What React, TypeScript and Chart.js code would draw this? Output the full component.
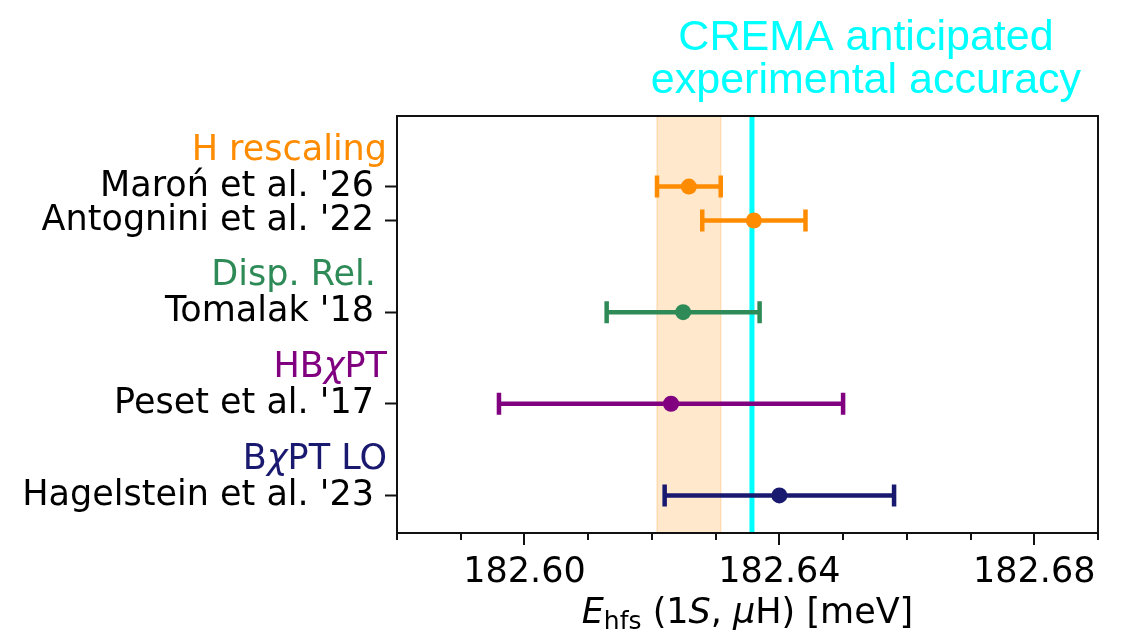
import { useEffect, useRef } from "react";
import { Chart, registerables } from "chart.js";

Chart.register(...registerables);

// Individual determinations, top to bottom
const STUDIES = [
  "Maroń et al. '26",
  "Antognini et al. '22",
  "Tomalak '18",
  "Peset et al. '17",
  "Hagelstein et al. '23",
];
const STUDY_ROWS = [3.37, 3, 2, 1, 0];
const CENTRAL = [182.6258, 182.636, 182.6249, 182.623, 182.6400];
const UNCERTAINTY = [0.005, 0.0081, 0.012, 0.027, 0.018];
const STUDY_COLORS = ["#ff8c00", "#ff8c00", "#2e8b57", "#800080", "#191970"];

// Method headings shown above each group of rows
const GROUPS = ["H rescaling", "Disp. Rel. ", "HBχPT", "BχPT LO"];
const GROUP_ROWS = [3.76, 2.39, 1.39, 0.39];
const GROUP_COLORS = ["#ff8c00", "#2e8b57", "#800080", "#191970"];

// Energy axis
const X_MIN = 182.58;
const X_MAX = 182.69;
const X_MAJOR = [182.6, 182.64, 182.68];
const X_MINOR = [182.58, 182.59, 182.61, 182.62, 182.63, 182.65, 182.66, 182.67, 182.69];
const Y_MIN = -0.41;
const Y_MAX = 4.14;

// Expected experimental precision marker
const CREMA_VALUE = 182.6357;
const CREMA_LINES = ["CREMA anticipated", "experimental accuracy"];
const BAND_INDEX = 0;

const TEXT_FONT = '"DejaVu Sans", sans-serif';
const FONT_SIZE = 35;
const SPINE = "#111";

function drawRich(
  ctx: CanvasRenderingContext2D,
  parts: { t: string; font: string; dy?: number }[],
  x: number,
  y: number,
  align: "left" | "center" | "right",
  color: string
) {
  let total = 0;
  for (const p of parts) {
    ctx.font = p.font;
    total += ctx.measureText(p.t).width;
  }
  let cx = align === "left" ? x : align === "center" ? x - total / 2 : x - total;
  ctx.fillStyle = color;
  ctx.textAlign = "left";
  for (const p of parts) {
    ctx.font = p.font;
    ctx.fillText(p.t, cx, y + (p.dy || 0));
    cx += ctx.measureText(p.t).width;
  }
}

function headingParts(text: string, size: number) {
  const parts: { t: string; font: string }[] = [];
  const pieces = text.split("χ");
  pieces.forEach((p, i) => {
    if (p) parts.push({ t: p, font: `${size}px ${TEXT_FONT}` });
    if (i < pieces.length - 1) parts.push({ t: "χ", font: `italic ${size}px ${TEXT_FONT}` });
  });
  return parts;
}

const decorations = {
  id: "decorations",
  beforeDatasetsDraw(chart: any) {
    const { ctx, chartArea: a, scales } = chart;
    const x = scales.x;
    const y = scales.y;
    ctx.save();
    ctx.beginPath();
    ctx.rect(a.left, a.top, a.right - a.left, a.bottom - a.top);
    ctx.clip();

    // shaded band spanning the first determination
    const lo = x.getPixelForValue(CENTRAL[BAND_INDEX] - UNCERTAINTY[BAND_INDEX]);
    const hi = x.getPixelForValue(CENTRAL[BAND_INDEX] + UNCERTAINTY[BAND_INDEX]);
    ctx.fillStyle = "rgba(255,140,0,0.2)";
    ctx.fillRect(lo, a.top, hi - lo, a.bottom - a.top);
    ctx.strokeStyle = "rgba(255,140,0,0.2)";
    ctx.lineWidth = 1.5;
    ctx.beginPath();
    ctx.moveTo(lo, a.top);
    ctx.lineTo(lo, a.bottom);
    ctx.moveTo(hi, a.top);
    ctx.lineTo(hi, a.bottom);
    ctx.stroke();

    // CREMA line
    const cx = x.getPixelForValue(CREMA_VALUE);
    ctx.strokeStyle = "#00ffff";
    ctx.lineWidth = 5;
    ctx.beginPath();
    ctx.moveTo(cx, a.top);
    ctx.lineTo(cx, a.bottom);
    ctx.stroke();

    // horizontal error bars with caps
    ctx.lineCap = "butt";
    STUDIES.forEach((_, i) => {
      const py = y.getPixelForValue(STUDY_ROWS[i]);
      const x0 = x.getPixelForValue(CENTRAL[i] - UNCERTAINTY[i]);
      const x1 = x.getPixelForValue(CENTRAL[i] + UNCERTAINTY[i]);
      ctx.strokeStyle = STUDY_COLORS[i];
      ctx.lineWidth = 4.5;
      ctx.beginPath();
      ctx.moveTo(x0, py);
      ctx.lineTo(x1, py);
      ctx.stroke();
      ctx.lineWidth = 4.5;
      ctx.beginPath();
      ctx.moveTo(x0, py - 11);
      ctx.lineTo(x0, py + 11);
      ctx.moveTo(x1, py - 11);
      ctx.lineTo(x1, py + 11);
      ctx.stroke();
    });
    ctx.restore();
  },
  afterDraw(chart: any) {
    const { ctx, chartArea: a, scales } = chart;
    const x = scales.x;
    const y = scales.y;
    ctx.save();

    // frame
    ctx.strokeStyle = SPINE;
    ctx.lineWidth = 2;
    ctx.strokeRect(a.left, a.top, a.right - a.left, a.bottom - a.top);

    // x tick marks
    ctx.lineWidth = 2;
    ctx.beginPath();
    X_MAJOR.forEach((v) => {
      const px = Math.round(x.getPixelForValue(v));
      ctx.moveTo(px, a.bottom);
      ctx.lineTo(px, a.bottom + 12);
    });
    X_MINOR.forEach((v) => {
      const px = Math.round(x.getPixelForValue(v));
      ctx.moveTo(px, a.bottom);
      ctx.lineTo(px, a.bottom + 7);
    });
    ctx.stroke();

    // group headings
    ctx.textBaseline = "middle";
    GROUPS.forEach((g, i) => {
      const py = y.getPixelForValue(GROUP_ROWS[i]);
      drawRich(ctx, headingParts(g, FONT_SIZE), a.left - 10, py, "right", GROUP_COLORS[i]);
    });

    // axis title
    ctx.textBaseline = "alphabetic";
    drawRich(
      ctx,
      [
        { t: "E", font: `italic ${FONT_SIZE}px ${TEXT_FONT}` },
        { t: "hfs", font: `25px ${TEXT_FONT}`, dy: 6 },
        { t: " (1", font: `${FONT_SIZE}px ${TEXT_FONT}` },
        { t: "S", font: `italic ${FONT_SIZE}px ${TEXT_FONT}` },
        { t: ", ", font: `${FONT_SIZE}px ${TEXT_FONT}` },
        { t: "μ", font: `italic ${FONT_SIZE}px ${TEXT_FONT}` },
        { t: "H) [meV]", font: `${FONT_SIZE}px ${TEXT_FONT}` },
      ],
      (a.left + a.right) / 2,
      623,
      "center",
      "#000"
    );

    // CREMA annotation above the frame
    ctx.font = '43px "Liberation Sans", Arial, sans-serif';
    ctx.fillStyle = "#00ffff";
    ctx.textAlign = "center";
    const tx = a.left + (a.right - a.left) * 0.669;
    ctx.fillText(CREMA_LINES[0], tx, 50);
    ctx.fillText(CREMA_LINES[1], tx, 93);
    ctx.restore();
  },
};

export default function App() {
  const canvasRef = useRef<HTMLCanvasElement | null>(null);

  useEffect(() => {
    const canvas = canvasRef.current;
    if (!canvas) return;
    const chart = new Chart(canvas, {
      type: "scatter",
      data: {
        datasets: [
          {
            data: STUDIES.map((_, i) => ({ x: CENTRAL[i], y: STUDY_ROWS[i] })),
            pointRadius: 8,
            pointHoverRadius: 8,
            pointBackgroundColor: STUDY_COLORS,
            pointBorderColor: STUDY_COLORS,
            pointBorderWidth: 0,
          },
        ],
      },
      options: {
        responsive: false,
        animation: false,
        devicePixelRatio: 1,
        layout: { padding: { top: 116, right: 23, left: 0, bottom: 0 } },
        plugins: { legend: { display: false }, tooltip: { enabled: false } },
        events: [],
        scales: {
          x: {
            type: "linear",
            min: X_MIN,
            max: X_MAX,
            grid: { display: false },
            border: { display: false },
            afterBuildTicks: (scale: any) => {
              scale.ticks = [...X_MAJOR, ...X_MINOR]
                .sort((p, q) => p - q)
                .map((v) => ({ value: v }));
            },
            afterFit: (scale: any) => {
              scale.height = 103;
            },
            ticks: {
              autoSkip: false,
              maxRotation: 0,
              padding: 11,
              color: "#000",
              font: { family: TEXT_FONT, size: FONT_SIZE },
              callback: (v: any) =>
                X_MAJOR.some((m) => Math.abs(m - Number(v)) < 1e-6) ? Number(v).toFixed(2) : "",
            },
          },
          y: {
            type: "linear",
            min: Y_MIN,
            max: Y_MAX,
            grid: {
              display: true,
              drawOnChartArea: false,
              drawTicks: true,
              tickLength: 12,
              tickWidth: 2,
              tickColor: SPINE,
            },
            border: { display: false },
            afterBuildTicks: (scale: any) => {
              scale.ticks = [...STUDY_ROWS].sort((p, q) => p - q).map((v) => ({ value: v }));
            },
            afterFit: (scale: any) => {
              scale.width = 397;
            },
            ticks: {
              autoSkip: false,
              padding: 11,
              color: "#000",
              font: { family: TEXT_FONT, size: FONT_SIZE },
              callback: (v: any) => {
                const i = STUDY_ROWS.findIndex((r) => Math.abs(r - Number(v)) < 1e-6);
                return i >= 0 ? STUDIES[i] : "";
              },
            },
          },
        },
      },
      plugins: [decorations],
    });
    return () => chart.destroy();
  }, []);

  return (
    <div style={{ position: "absolute", left: 0, top: 0, width: 1121, height: 636, background: "#fff" }}>
      <canvas ref={canvasRef} width={1121} height={636} style={{ display: "block" }} />
    </div>
  );
}
